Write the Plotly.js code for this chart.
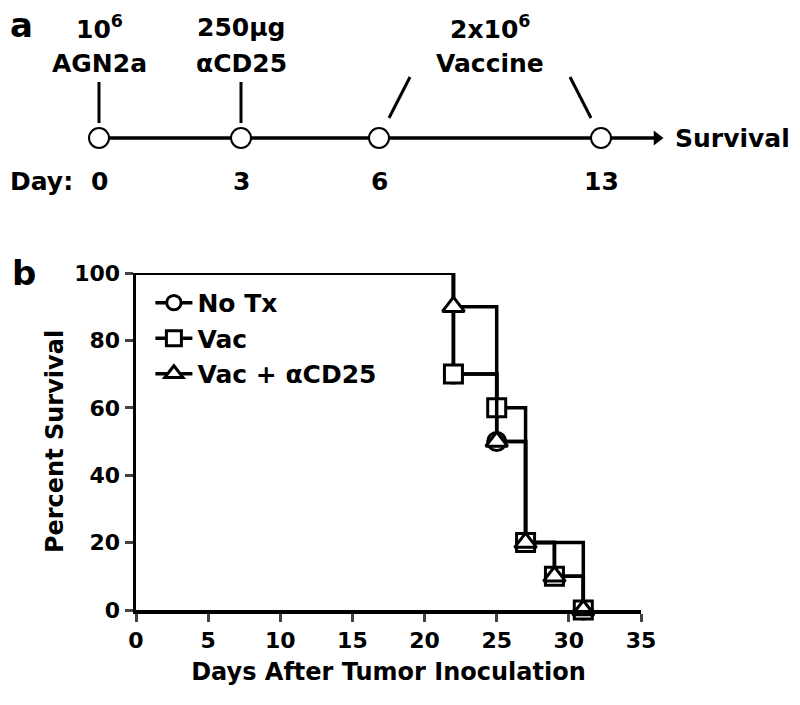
<!DOCTYPE html>
<html>
<head>
<meta charset="utf-8">
<script src="https://cdn.plot.ly/plotly-3.0.1.min.js"></script>
<style>body{margin:0;background:#fff}#chart{width:800px;height:705px}</style>
</head>
<body>
<div id="chart"></div>
<script>
// panel b: survival after tumor inoculation (day of each drop, % still alive)
const groups = ['No Tx', 'Vac', 'Vac + αCD25'];
const noTxDays = [22, 25, 27, 31];
const noTxSurv = [70, 50, 20, 0];
const vacDays = [22, 25, 27, 29, 31];
const vacSurv = [70, 60, 20, 10, 0];
const comboDays = [22, 25, 27, 29, 31];
const comboSurv = [90, 50, 20, 10, 0];
const xTicks = [0, 5, 10, 15, 20, 25, 30, 35];
const yTicks = [0, 20, 40, 60, 80, 100];

// panel a: treatment schedule
const scheduleDays = [0, 3, 6, 13];
const treatDose = ['10<sup>6</sup>', '250µg', '2x10<sup>6</sup>'];
const treatName = ['AGN2a', 'αCD25', 'Vaccine'];
const treatDays = [[0], [3], [6, 13]];

// schematic timeline is not drawn to scale -> pixel place of each day
const dayPx = {0: 99, 3: 241, 6: 379, 13: 601};
const lineY = 138;
const arrowX = 657;

const F = {family: 'DejaVu Sans, sans-serif', color: '#000', weight: 'bold'};
const font = (size) => Object.assign({}, F, {size: size});

const symbols = ['circle', 'square', 'triangle-up'];
const msize = [18, 18, 19];
const series = [[noTxDays, noTxSurv], [vacDays, vacSurv], [comboDays, comboSurv]];

var traces = [];

series.forEach(([d, s], i) => {
  traces.push({
    x: [0].concat(d),
    y: [100].concat(s),
    mode: 'lines+markers',
    line: {shape: 'hv', color: '#000', width: 3.5},
    marker: {
      symbol: symbols[i],
      size: [0].concat(d.map(() => msize[i])),
      opacity: 1,
      color: '#fff',
      line: {color: '#000', width: 3}
    },
    name: groups[i],
    legendgroup: 'g' + i,
    cliponaxis: false,
    xaxis: 'x', yaxis: 'y'
  });
});

// timeline
const pa = {xaxis: 'x2', yaxis: 'y2', showlegend: false, cliponaxis: false, hoverinfo: 'skip'};
traces.push(Object.assign({
  x: [dayPx[scheduleDays[0]], arrowX], y: [lineY, lineY],
  mode: 'lines', line: {color: '#000', width: 3.5}
}, pa));
traces.push(Object.assign({
  x: [arrowX], y: [lineY], mode: 'markers',
  marker: {symbol: 'triangle-right', size: 13, color: '#000', line: {width: 0}}
}, pa));

// connectors from each treatment label down to its days
treatDays.forEach((days) => {
  if (days.length === 1) {
    const x = dayPx[days[0]];
    traces.push(Object.assign({x: [x, x], y: [123, 82], mode: 'lines', line: {color: '#000', width: 3}}, pa));
  } else {
    const mid = (dayPx[days[0]] + dayPx[days[days.length - 1]]) / 2;
    days.forEach((d) => {
      const sgn = dayPx[d] < mid ? 1 : -1;
      const bx = dayPx[d] + sgn * 10;
      traces.push(Object.assign({x: [bx, bx + sgn * 21], y: [118, 77], mode: 'lines', line: {color: '#000', width: 3}}, pa));
    });
  }
});

traces.push(Object.assign({
  x: scheduleDays.map(d => dayPx[d]), y: scheduleDays.map(() => lineY),
  mode: 'markers',
  marker: {symbol: 'circle', size: 20, color: '#fff', line: {color: '#000', width: 2}}
}, pa));

var ann = [];
const txt = (x, y, text, size, xanchor) => ({
  x: x, y: y, xref: 'x2', yref: 'y2', text: text, showarrow: false,
  font: font(size), xanchor: xanchor || 'center', yanchor: 'middle'
});

treatDays.forEach((days, i) => {
  const cx = (dayPx[days[0]] + dayPx[days[days.length - 1]]) / 2;
  ann.push(txt(cx, 27, treatDose[i], 25));
  ann.push(txt(cx, 63, treatName[i], 25));
});
ann.push(txt(8, 181, 'Day:', 25, 'left'));
scheduleDays.forEach((d) => ann.push(txt(dayPx[d], 181, String(d), 25)));
ann.push(txt(673, lineY, 'Survival', 25, 'left'));
ann.push(txt(8, 25, 'a', 34, 'left'));
ann.push(txt(10, 273, 'b', 34, 'left'));

var layout = {
  width: 800, height: 705,
  margin: {l: 0, r: 0, t: 0, b: 0},
  paper_bgcolor: '#fff', plot_bgcolor: 'rgba(0,0,0,0)',
  showlegend: true,
  legend: {
    x: 0.188, y: 0.603, xanchor: 'left', yanchor: 'top',
    font: font(25), bgcolor: 'rgba(0,0,0,0)',
    tracegroupgap: 0, itemwidth: 37
  },
  xaxis: {
    domain: [136 / 800, 641 / 800], range: [0, 35], anchor: 'y',
    tickvals: xTicks, ticks: 'outside', ticklen: 8, tickwidth: 3,
    showline: true, linewidth: 3.5, linecolor: '#000',
    showgrid: false, zeroline: false, tickfont: font(22),
    title: {text: 'Days After Tumor Inoculation', font: font(24), standoff: 12}
  },
  yaxis: {
    domain: [1 - 610 / 705, 1 - 273 / 705], range: [0, 100], anchor: 'x',
    tickvals: yTicks, ticks: 'outside', ticklen: 8, tickwidth: 3,
    showline: true, linewidth: 3.5, linecolor: '#000',
    showgrid: false, zeroline: false, tickfont: font(22),
    title: {text: 'Percent Survival', font: font(24), standoff: 5}
  },
  xaxis2: {domain: [0, 1], range: [0, 800], anchor: 'y2', visible: false},
  yaxis2: {domain: [0, 1], range: [705, 0], anchor: 'x2', visible: false},
  annotations: ann
};

Plotly.newPlot('chart', traces, layout, {staticPlot: true});
</script>
</body>
</html>
